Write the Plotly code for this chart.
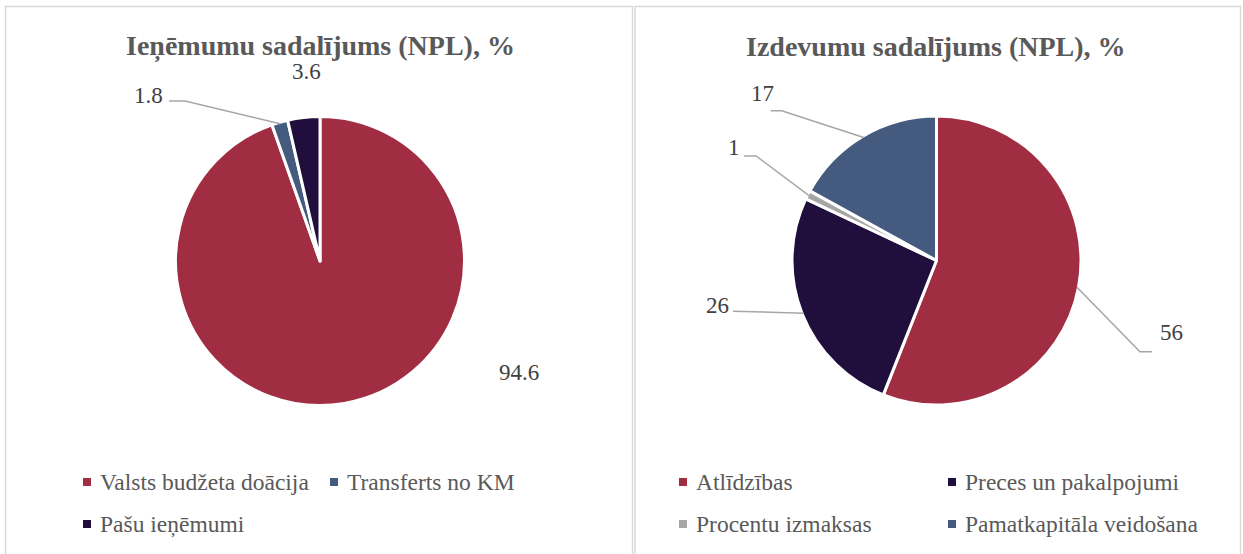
import math
import plotly.graph_objects as go

# ---------------- data ----------------
income_title = "Ieņēmumu sadalījums (NPL), %"
income_labels = ["Valsts budžeta doācija", "Transferts no KM", "Pašu ieņēmumi"]
income_values = [94.6, 1.8, 3.6]

expense_title = "Izdevumu sadalījums (NPL), %"
expense_labels = ["Atlīdzības", "Preces un pakalpojumi", "Procentu izmaksas", "Pamatkapitāla veidošana"]
expense_values = [56, 26, 1, 17]

# ---------------- styles / layout ----------------
RED, NAVY, BLUE, GRAY = "#A12D42", "#200E3D", "#445A7E", "#A6A6A6"
income_colors = [RED, BLUE, NAVY]
expense_colors = [RED, NAVY, GRAY, BLUE]

W, H = 1243, 554
FONT = "Liberation Serif, Times New Roman, serif"
TITLE_COLOR = "#595959"
LABEL_COLOR = "#404040"
LEGEND_COLOR = "#595959"
LEADER_COLOR = "#A6A6A6"
BORDER_COLOR = "#D9D9D9"
R = 144.5  # pie radius in px

# label placement (offsets in px from the slice's outer mid-point)
income_label_layout = [
    dict(text=(175, -29), leader=None),
    dict(text=(-132, -27.7), leader=[(-95, -22.7), (-111, -22.7)]),
    dict(text=(3, -47), leader=None),
]
expense_label_layout = [
    dict(text=(94.5, 45.7), leader=[(63, 64.4), (75, 64.4)]),
    dict(text=(-86.5, -8), leader=[(-70.5, -2)]),
    dict(text=(-75, -47.6), leader=[(-53, -39.6), (-65, -39.6)]),
    dict(text=(-101.7, -44.4), leader=[(-82, -26.7), (-93, -26.7)]),
]

charts = [
    dict(title=income_title, labels=income_labels, values=income_values, colors=income_colors,
         center=(320, 261), box=(5.5, 632.5), label_layout=income_label_layout,
         legend=dict(x0=98, colw=247, rows=[482, 524], ncol=2)),
    dict(title=expense_title, labels=expense_labels, values=expense_values, colors=expense_colors,
         center=(936.5, 260.5), box=(635, 1240.5), label_layout=expense_label_layout,
         legend=dict(x0=694, colw=269, rows=[482, 524], ncol=2)),
]


def px(x):
    return x / W


def py(y):
    return 1 - y / H


fig = go.Figure()
shapes = []
annotations = []

for ch in charts:
    cx, cy = ch["center"]
    fig.add_trace(go.Pie(
        labels=ch["labels"], values=ch["values"],
        marker=dict(colors=ch["colors"], line=dict(color="white", width=3)),
        domain=dict(x=[px(cx - R), px(cx + R)], y=[py(cy + R), py(cy - R)]),
        direction="clockwise", rotation=0, sort=False,
        textinfo="none", hoverinfo="label+value", showlegend=False,
    ))

    # chart border
    x0, x1 = ch["box"]
    shapes.append(dict(type="rect", xref="paper", yref="paper",
                       x0=px(x0), x1=px(x1), y0=py(6.5), y1=py(H + 10),
                       line=dict(color=BORDER_COLOR, width=1.5), layer="below"))

    # title
    annotations.append(dict(text=f"<b>{ch['title']}</b>", x=px(cx), y=py(47), xref="paper", yref="paper",
                            xanchor="center", yanchor="middle", showarrow=False,
                            font=dict(family=FONT, size=28, color=TITLE_COLOR)))

    # data labels with leader lines
    total = sum(ch["values"])
    cum = 0.0
    for v, lay in zip(ch["values"], ch["label_layout"]):
        mid = (cum + v / 2) / total * 2 * math.pi
        cum += v
        ax = cx + (R - 1.5) * math.sin(mid)
        ay = cy - (R - 1.5) * math.cos(mid)
        tx, ty = ax + lay["text"][0], ay + lay["text"][1]
        annotations.append(dict(text=f"{v:g}", x=px(tx), y=py(ty), xref="paper", yref="paper",
                                xanchor="center", yanchor="middle", showarrow=False,
                                font=dict(family=FONT, size=23, color=LABEL_COLOR)))
        if lay["leader"]:
            pts = [(ax, ay)] + [(ax + dx, ay + dy) for dx, dy in lay["leader"]]
            path = "M " + " L ".join(f"{px(x):.5f},{py(y):.5f}" for x, y in pts)
            shapes.append(dict(type="path", xref="paper", yref="paper", path=path,
                               line=dict(color=LEADER_COLOR, width=1.5)))

    # legend
    lg = ch["legend"]
    for i, (lab, col) in enumerate(zip(ch["labels"], ch["colors"])):
        r, c = divmod(i, lg["ncol"])
        tx = lg["x0"] + c * lg["colw"]
        ty = lg["rows"][r]
        sx = tx - 11
        shapes.append(dict(type="rect", xref="paper", yref="paper",
                           x0=px(sx - 4), x1=px(sx + 4), y0=py(ty + 4), y1=py(ty - 4),
                           fillcolor=col, line=dict(width=0)))
        annotations.append(dict(text=lab, x=px(tx), y=py(ty), xref="paper", yref="paper",
                                xanchor="left", yanchor="middle", showarrow=False,
                                font=dict(family=FONT, size=23.5, color=LEGEND_COLOR)))

fig.update_layout(
    width=W, height=H, margin=dict(l=0, r=0, t=0, b=0),
    paper_bgcolor="white", plot_bgcolor="white",
    showlegend=False, shapes=shapes, annotations=annotations,
    font=dict(family=FONT),
)

fig.write_html("out.html", config={"displayModeBar": False},
               post_script="document.body.style.margin='0';document.body.style.overflow='hidden';")
